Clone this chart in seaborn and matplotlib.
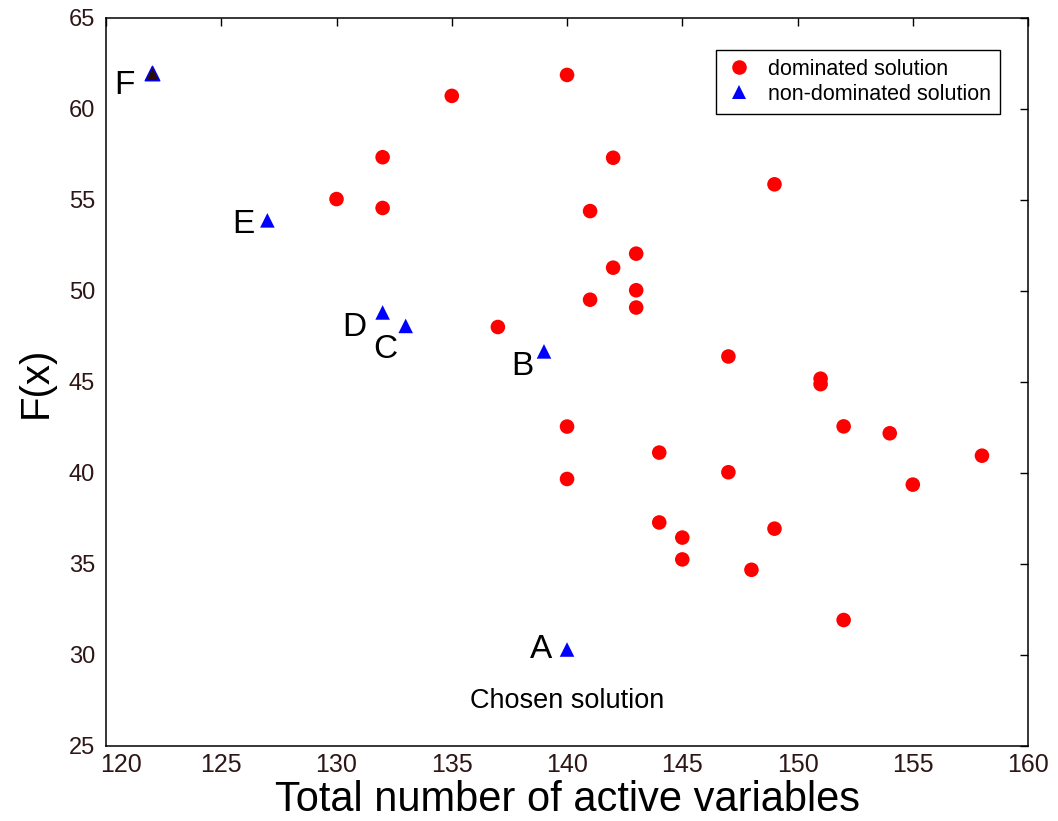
import numpy as np
import pandas as pd
import matplotlib
matplotlib.use('Agg')
import matplotlib.pyplot as plt
import matplotlib.transforms as mtransforms
import seaborn as sns

# dominated solutions (red circles)
dom_x = [140, 135, 132, 142, 149, 130, 132, 141, 143, 142, 143, 141, 143, 137, 147, 151,
         151, 140, 152, 154, 144, 158, 147, 140, 155, 144, 149, 145, 145, 148, 152]
dom_y = [61.87, 60.72, 57.35, 57.32, 55.86, 55.05, 54.56, 54.39, 52.05, 51.28, 50.04, 49.52,
         49.09, 48.02, 46.40, 45.18, 44.88, 42.55, 42.56, 42.18, 41.12, 40.95, 40.04, 39.67,
         39.36, 37.28, 36.94, 36.45, 35.25, 34.68, 31.92]

# non-dominated solutions (blue triangles)
nd_x = [140, 139, 133, 132, 127, 122]
nd_y = [30.30, 46.68, 48.08, 48.82, 53.88, 61.95]
nd_labels = ['A', 'B', 'C', 'D', 'E', 'F']
label_offsets = [(-15, 0), (-10, -15), (-8, -24), (-16, -15), (-13, -4), (-17, -12)]

x_ticks = [120, 125, 130, 135, 140, 145, 150, 155, 160]
y_ticks = [25, 30, 35, 40, 45, 50, 55, 60, 65]

df = pd.DataFrame({
    'x': dom_x + nd_x,
    'y': dom_y + nd_y,
    'kind': ['dominated solution'] * len(dom_x) + ['non-dominated solution'] * len(nd_x),
})

sns.set_style('white')
plt.rcParams['font.family'] = ['Liberation Sans', 'DejaVu Sans']
plt.rcParams['axes.unicode_minus'] = True
plt.rcParams['text.color'] = 'black'
plt.rcParams['axes.labelcolor'] = 'black'

fig = plt.figure(figsize=(10.58, 8.21), dpi=100)
ax = fig.add_axes([0.1002, 0.0914, 0.8715, 0.8867])

palette = {'dominated solution': '#ff0000', 'non-dominated solution': '#0000ff'}
markers = {'dominated solution': 'o', 'non-dominated solution': '^'}
sns.scatterplot(data=df, x='x', y='y', hue='kind', style='kind', palette=palette,
                markers=markers, s=110, linewidth=0, ax=ax)

# F point drawn with dark fill
fi = nd_labels.index('F')
ax.scatter([nd_x[fi]], [nd_y[fi]], marker='^', s=110, facecolor='#2a0a0a',
           edgecolor='#0000ff', linewidth=1.0, zorder=5)

for lab, px, py, off in zip(nd_labels, nd_x, nd_y, label_offsets):
    ax.annotate(lab, (px, py), xytext=off, textcoords='offset pixels',
                ha='right', va='center', fontsize=24, color='black')

ax.text(140, 27.45, 'Chosen solution', ha='center', va='center', fontsize=19.5)

ax.set_xlim(120, 160)
ax.set_ylim(25, 65)
ax.set_xticks(x_ticks)
ax.set_yticks(y_ticks)
ax.tick_params(axis='both', direction='in', top=True, right=True, length=6,
               width=1.0, colors='black', labelcolor='#2e1616')
ax.tick_params(axis='x', labelsize=18, pad=5)
ax.tick_params(axis='y', labelsize=17, pad=8)
for sp in ax.spines.values():
    sp.set_visible(True)
    sp.set_color('black')
    sp.set_linewidth(1.1)

# first x tick label sits to the right of the corner, as in the original
first = ax.get_xticklabels()[0]
first.set_transform(first.get_transform() +
                    mtransforms.ScaledTranslation(0.15, 0, fig.dpi_scale_trans))

ax.set_xlabel('Total number of active variables', fontsize=30, labelpad=2)
ax.set_ylabel('F(x)', fontsize=29, labelpad=10)

leg = ax.legend(loc='upper right', bbox_to_anchor=(0.9696, 0.956), fontsize=15.5,
                frameon=True, fancybox=False, framealpha=1, edgecolor='black',
                borderpad=0.4, labelspacing=0.2, handlelength=1.4, handletextpad=0.65,
                borderaxespad=0, markerscale=1.0)
leg.get_frame().set_linewidth(1.0)
for h in leg.legend_handles:
    h.set_markersize(10.5)

fig.savefig('out.png', dpi=100)
